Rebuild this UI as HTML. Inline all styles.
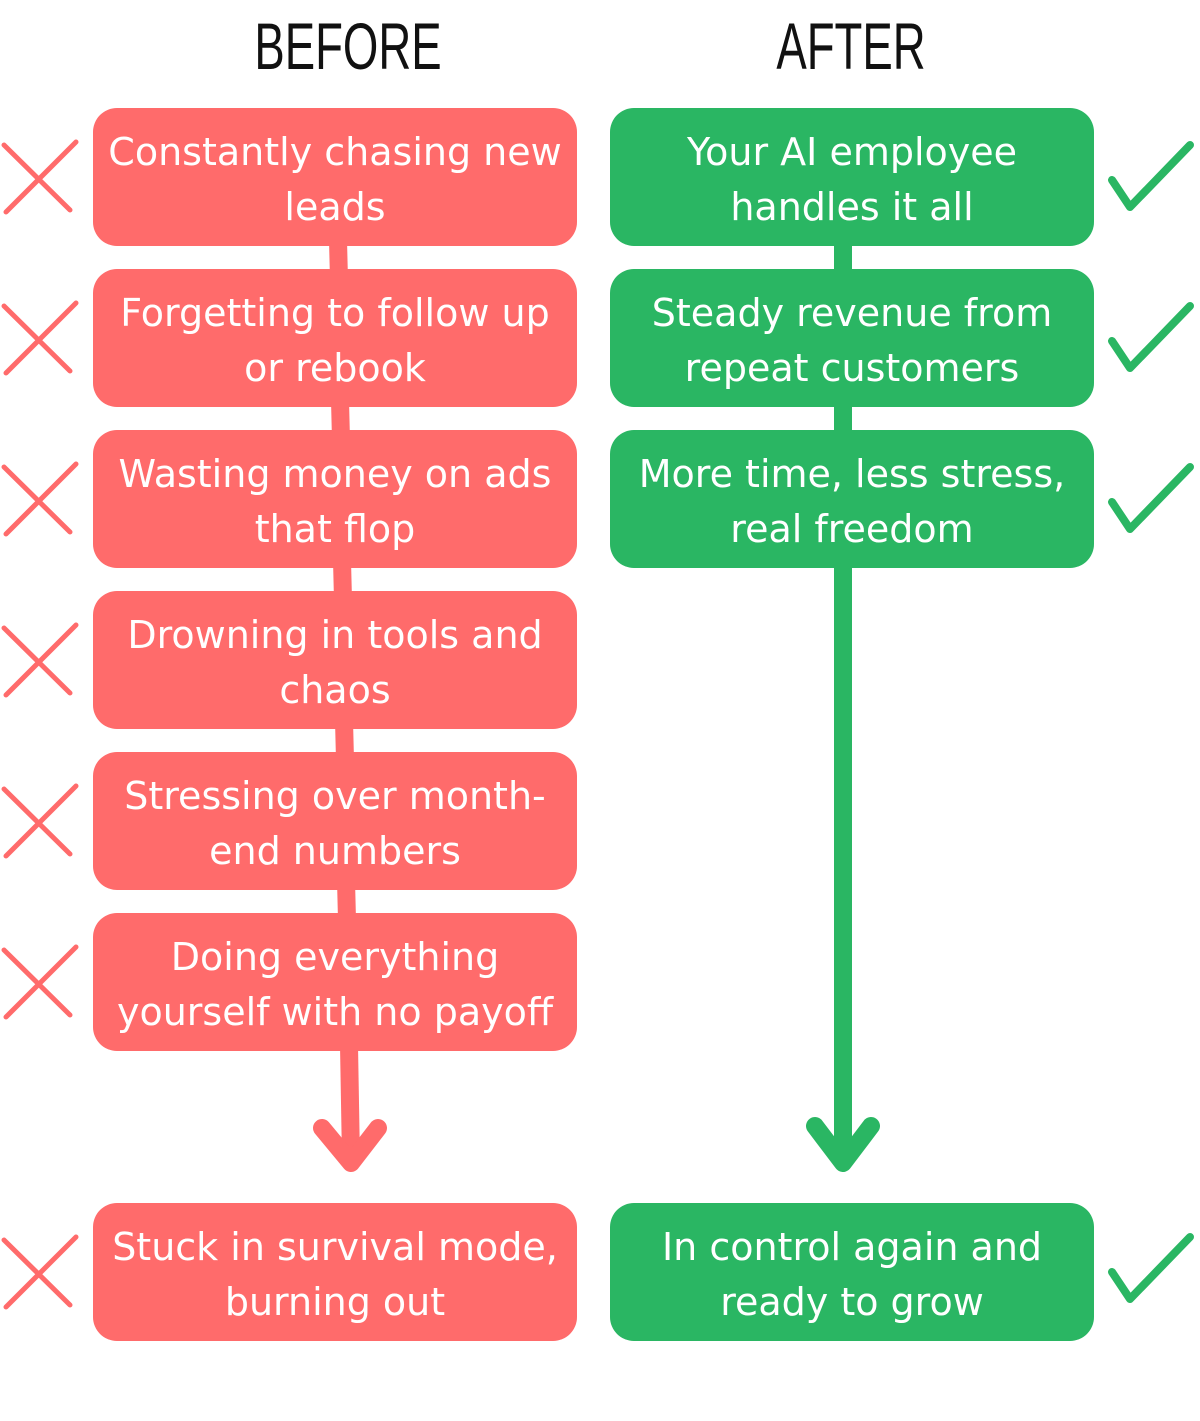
<!DOCTYPE html>
<html><head><style>
body{margin:0;width:1200px;height:1421px;background:#fff;position:relative;overflow:hidden;font-family:"Liberation Sans",sans-serif}
.b{position:absolute;width:484px;height:138px;border-radius:24px;display:flex;align-items:center;justify-content:center;text-align:center;color:#fff;font-family:"DejaVu Sans",sans-serif;font-size:38px;line-height:55px;padding-top:6px;box-sizing:border-box;white-space:nowrap}
.r{left:93px;background:#FF6B6B}
.g{left:610px;background:#2AB663}
.t{position:absolute;top:8px;font-size:66px;color:#111;transform:scaleX(0.69);width:400px;text-align:center}
svg{position:absolute;left:0;top:0}
</style></head><body>
<div class="t" style="left:148px">BEFORE</div>
<div class="t" style="left:651px">AFTER</div>
<svg width="1200" height="1421">
<g stroke="#FF6B6B" stroke-width="18"><line x1="338" y1="240" x2="339" y2="280"/><line x1="340" y1="400" x2="341" y2="440"/><line x1="342" y1="560" x2="343" y2="600"/><line x1="344" y1="720" x2="345" y2="760"/><line x1="346" y1="880" x2="347" y2="920"/><line x1="349" y1="1045" x2="351" y2="1160"/></g>
<polyline points="322,1128 351,1163 378,1128" fill="none" stroke="#FF6B6B" stroke-width="18" stroke-linecap="round" stroke-linejoin="round"/>
<g stroke="#2AB663" stroke-width="18"><line x1="843" y1="240" x2="843" y2="280"/><line x1="843" y1="400" x2="843" y2="440"/><line x1="843" y1="560" x2="843" y2="1160"/></g>
<polyline points="815,1126 843,1163 871,1126" fill="none" stroke="#2AB663" stroke-width="18" stroke-linecap="round" stroke-linejoin="round"/>
<g stroke="#FF6B6B" stroke-width="5" stroke-linecap="round">
<path d="M4 145 L70 210 M76 142 L6 212"/>
<path d="M4 306 L70 371 M76 303 L6 373"/>
<path d="M4 467 L70 532 M76 464 L6 534"/>
<path d="M4 628 L70 693 M76 625 L6 695"/>
<path d="M4 789 L70 854 M76 786 L6 856"/>
<path d="M4 950 L70 1015 M76 947 L6 1017"/>
<path d="M4 1240 L70 1305 M76 1237 L6 1307"/>
</g>
<g fill="none" stroke="#2AB663" stroke-width="8" stroke-linecap="round" stroke-linejoin="round">
<path d="M1112 180 L1130 207 L1190 145"/>
<path d="M1112 341 L1130 368 L1190 306"/>
<path d="M1112 502 L1130 529 L1190 467"/>
<path d="M1112 1272 L1130 1299 L1190 1237"/>
</g>
</svg>
<div class="b r" style="top:108px">Constantly chasing new<br>leads</div>
<div class="b r" style="top:269px">Forgetting to follow up<br>or rebook</div>
<div class="b r" style="top:430px">Wasting money on ads<br>that flop</div>
<div class="b r" style="top:591px">Drowning in tools and<br>chaos</div>
<div class="b r" style="top:752px">Stressing over month-<br>end numbers</div>
<div class="b r" style="top:913px">Doing everything<br>yourself with no payoff</div>
<div class="b r" style="top:1203px">Stuck in survival mode,<br>burning out</div>
<div class="b g" style="top:108px">Your AI employee<br>handles it all</div>
<div class="b g" style="top:269px">Steady revenue from<br>repeat customers</div>
<div class="b g" style="top:430px">More time, less stress,<br>real freedom</div>
<div class="b g" style="top:1203px">In control again and<br>ready to grow</div>
</body></html>
